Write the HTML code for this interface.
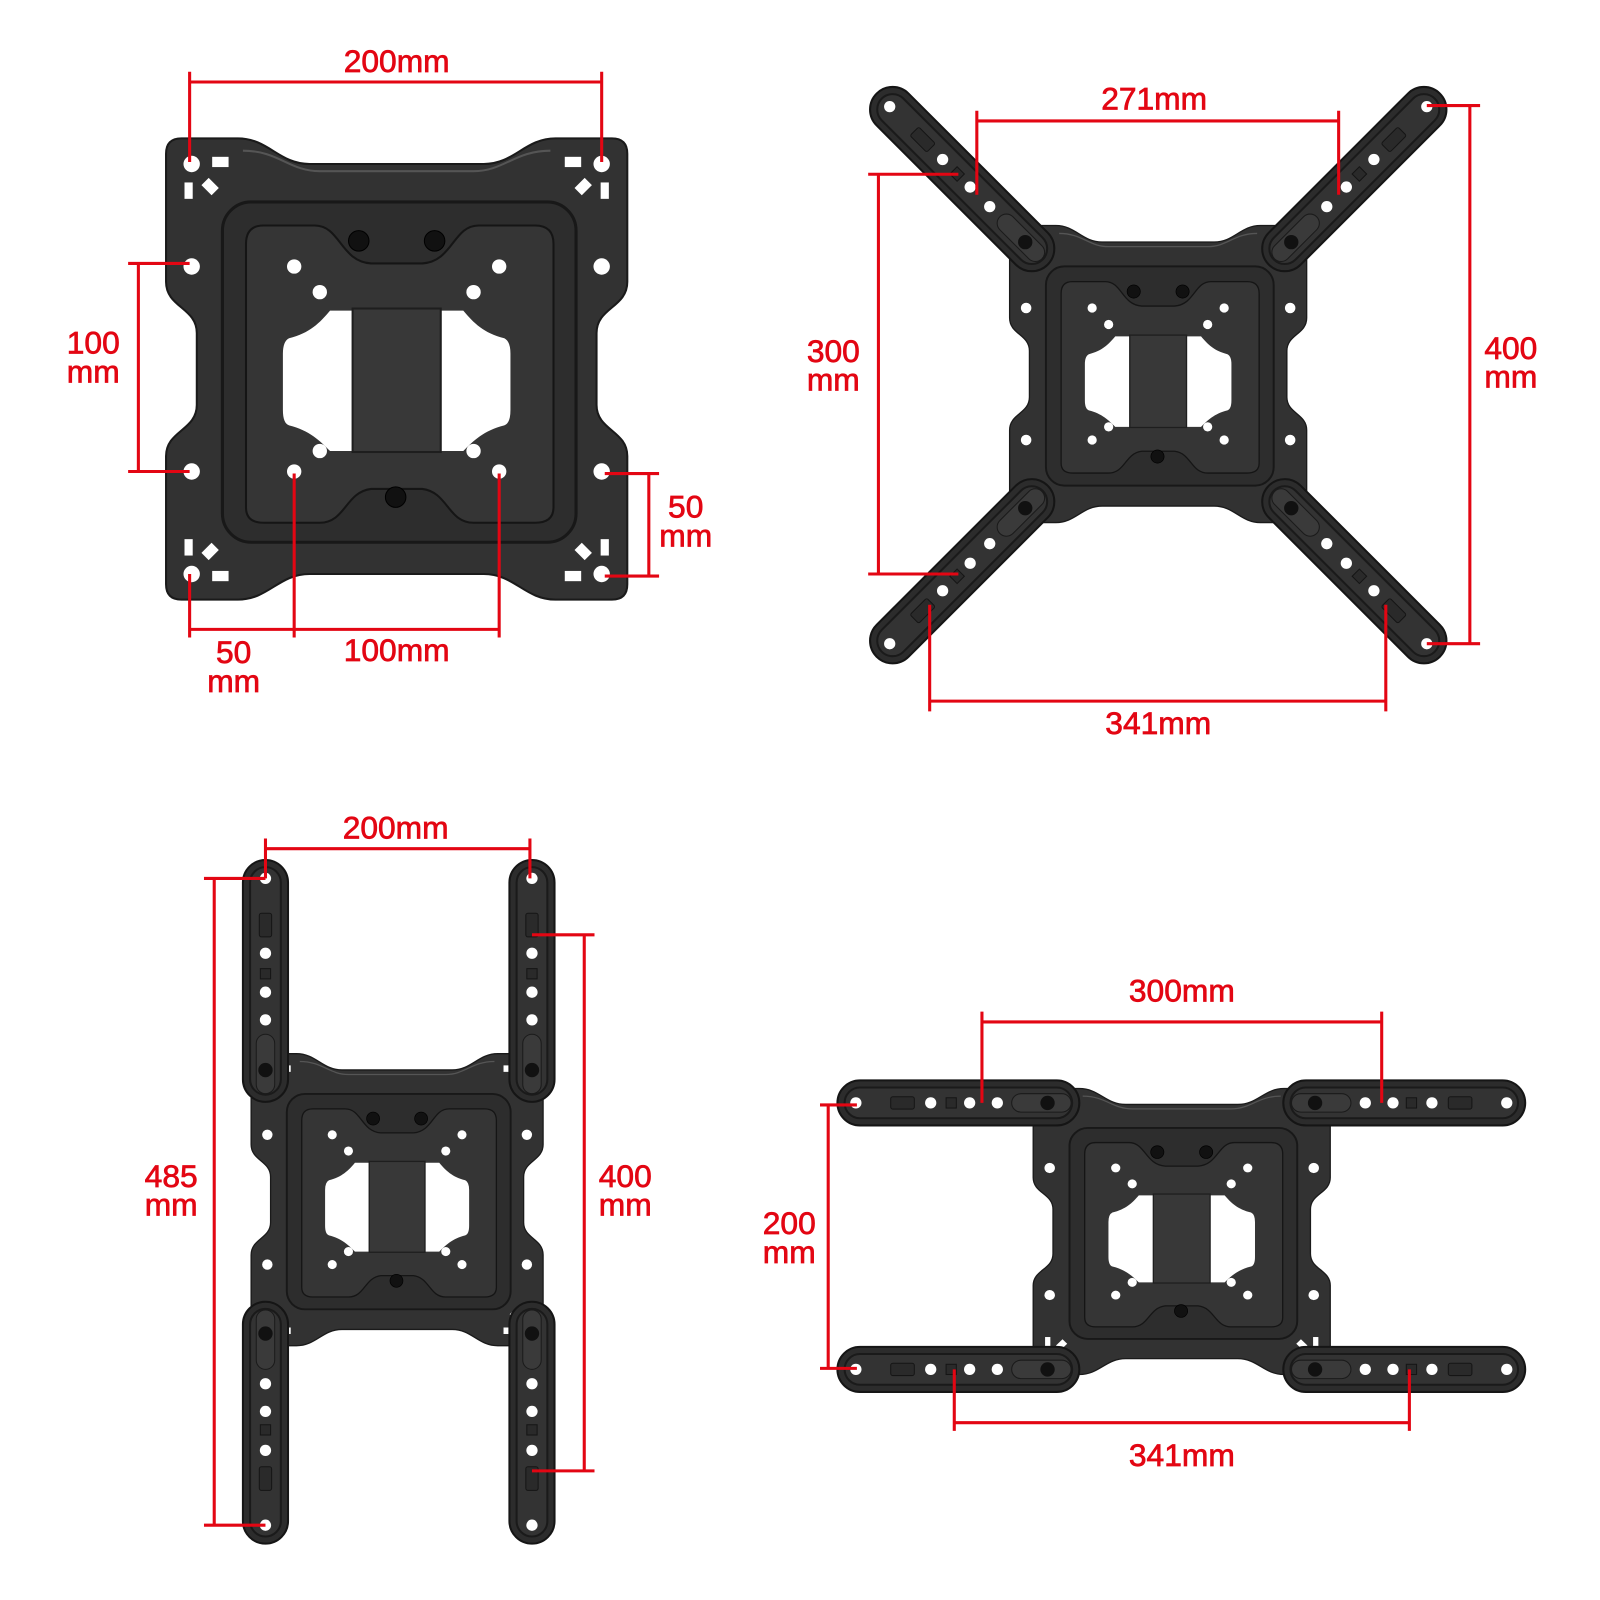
<!DOCTYPE html>
<html><head><meta charset="utf-8"><style>
html,body{margin:0;padding:0;background:#fff;}
svg{display:block;}
text{font-family:"Liberation Sans",sans-serif;fill:#e30613;font-size:31px;text-anchor:middle;stroke:#e30613;stroke-width:0.7;}
</style></head><body>
<svg width="1600" height="1600" viewBox="0 0 1600 1600" xmlns="http://www.w3.org/2000/svg">
<defs>
<g id="plate">
  <path d="M15,0 H70 C100,0 110,25 140,25 H310 C340,25 350,0 380,0 H435 Q450,0 450,15 V140 C450,165 420,165 420,190 V260 C420,285 450,285 450,310 V435 Q450,450 435,450 H380 C350,450 340,425 310,425 H140 C110,425 100,450 70,450 H15 Q0,450 0,435 V310 C0,285 30,285 30,260 V190 C30,165 0,165 0,140 V15 Q0,0 15,0 Z" fill="#323232" stroke="#1a1a1a" stroke-width="2"/>
  <path d="M75,12 C110,12 120,32 150,32 H300 C330,32 340,12 375,12" fill="none" stroke="#555" stroke-width="2"/>
  <rect x="55" y="62" width="345" height="332" rx="28" fill="#2d2d2d" stroke="#181818" stroke-width="3"/>
  <path d="M95,85 H145 C170,85 170,120 200,122 H250 C280,120 280,85 305,85 H360 Q378,85 378,103 V360 Q378,375 360,375 H300 C275,375 275,345 250,342 H200 C175,345 175,375 150,375 H95 Q78,375 78,360 V103 Q78,85 95,85 Z" fill="#353535" stroke="#151515" stroke-width="2"/>
  <path d="M160,168 H290 C300,180 310,190 330,195 Q336,198 336,210 V265 Q336,278 330,280 C310,285 300,295 290,305 H160 C150,295 140,285 120,280 Q114,278 114,265 V210 Q114,198 120,195 C140,190 150,180 160,168 Z" fill="#fff"/>
  <rect x="182" y="166" width="86" height="140" fill="#383838" stroke="#1e1e1e" stroke-width="2"/>
  <g fill="#fff">
    <circle cx="25" cy="25" r="8"/><circle cx="425" cy="25" r="8"/><circle cx="25" cy="425" r="8"/><circle cx="425" cy="425" r="8"/>
    <circle cx="25" cy="125" r="8"/><circle cx="425" cy="125" r="8"/><circle cx="25" cy="325" r="8"/><circle cx="425" cy="325" r="8"/>
    <circle cx="125" cy="125" r="7"/><circle cx="325" cy="125" r="7"/><circle cx="150" cy="150" r="7"/><circle cx="300" cy="150" r="7"/>
    <circle cx="125" cy="325" r="7"/><circle cx="325" cy="325" r="7"/><circle cx="150" cy="305" r="7"/><circle cx="300" cy="305" r="7"/>
    <rect x="45" y="18" width="16" height="10"/><rect x="18" y="43" width="8" height="16"/><rect x="38" y="40" width="10" height="14" transform="rotate(-45 43 47)"/>
    <rect x="389" y="18" width="16" height="10"/><rect x="424" y="43" width="8" height="16"/><rect x="402" y="40" width="10" height="14" transform="rotate(45 407 47)"/>
    <rect x="45" y="422" width="16" height="10"/><rect x="18" y="391" width="8" height="16"/><rect x="38" y="396" width="10" height="14" transform="rotate(45 43 403)"/>
    <rect x="389" y="422" width="16" height="10"/><rect x="424" y="391" width="8" height="16"/><rect x="402" y="396" width="10" height="14" transform="rotate(-45 407 403)"/>
  </g>
  <g fill="#111" stroke="#000"><circle cx="188" cy="100" r="10"/><circle cx="262" cy="100" r="10"/><circle cx="224" cy="350" r="10"/></g>
</g>
<g id="arm">
  <rect x="-18" y="-22" width="236" height="44" rx="22" fill="#2c2c2c" stroke="#151515" stroke-width="2"/>
  <rect x="-11" y="-15" width="222" height="30" rx="15" fill="#333" stroke="#1a1a1a" stroke-width="2"/>
  <g fill="#fff"><circle cx="0" cy="0" r="5.5"/><circle cx="73" cy="0" r="5.5"/><circle cx="111" cy="0" r="5.5"/><circle cx="138" cy="0" r="5.5"/></g>
  <rect x="34" y="-6" width="23" height="12" rx="2" fill="#2a2a2a" stroke="#151515"/>
  <rect x="88" y="-5" width="10" height="10" fill="#2a2a2a" stroke="#151515"/>
  <rect x="152" y="-9" width="58" height="18" rx="9" fill="#3a3a3a" stroke="#1a1a1a"/>
  <circle cx="187" cy="0" r="7" fill="#111"/>
</g>
</defs>
<g transform="scale(1.025)">
  <use href="#plate" transform="translate(162,135)"/>
  <use href="#plate" transform="translate(985,220) scale(0.644)"/>
  <use href="#arm" transform="translate(868,104) rotate(45)"/>
  <use href="#arm" transform="translate(1392,104) rotate(135)"/>
  <use href="#arm" transform="translate(868,628) rotate(-45)"/>
  <use href="#arm" transform="translate(1392,628) rotate(-135)"/>
  <use href="#plate" transform="translate(245,1028) scale(0.633)"/>
  <use href="#arm" transform="translate(259,857) rotate(90)"/>
  <use href="#arm" transform="translate(519,857) rotate(90)"/>
  <use href="#arm" transform="translate(259,1488) rotate(-90)"/>
  <use href="#arm" transform="translate(519,1488) rotate(-90)"/>
  <use href="#plate" transform="translate(1008,1062) scale(0.644,0.62)"/>
  <use href="#arm" transform="translate(835,1076)"/>
  <use href="#arm" transform="translate(1470,1076) rotate(180)"/>
  <use href="#arm" transform="translate(835,1336)"/>
  <use href="#arm" transform="translate(1470,1336) rotate(180)"/>

  <g stroke="#e30613" stroke-width="3" fill="none">
    <path d="M185,80 H587 M185,70 V158 M587,70 V158"/>
    <path d="M135,257 V460 M125,257 H185 M125,460 H185"/>
    <path d="M633,462 V562 M590,462 H643 M590,562 H643"/>
    <path d="M185,614 H487 M185,560 V622 M287,462 V622 M487,462 V622"/>
    <path d="M953,118 H1306 M953,108 V190 M1306,108 V190"/>
    <path d="M857,170 V560 M847,170 H935 M847,560 H935"/>
    <path d="M1434,103 V628 M1392,103 H1444 M1392,628 H1444"/>
    <path d="M907,684 H1352 M907,590 V694 M1352,590 V694"/>
    <path d="M259,828 H517 M259,818 V857 M517,818 V857"/>
    <path d="M209,857 V1488 M199,857 H259 M199,1488 H259"/>
    <path d="M570,912 V1435 M519,912 H580 M519,1435 H580"/>
    <path d="M958,997 H1348 M958,987 V1076 M1348,987 V1076"/>
    <path d="M808,1078 V1335 M800,1078 H836 M800,1335 H836"/>
    <path d="M931,1388 H1375 M931,1336 V1396 M1375,1336 V1396"/>
  </g>
  <text x="387" y="70">200mm</text>
  <text x="91" y="345">100</text><text x="91" y="373">mm</text>
  <text x="669" y="505">50</text><text x="669" y="533">mm</text>
  <text x="228" y="647">50</text><text x="228" y="675">mm</text>
  <text x="387" y="645">100mm</text>
  <text x="1126" y="107">271mm</text>
  <text x="813" y="353">300</text><text x="813" y="381">mm</text>
  <text x="1474" y="350">400</text><text x="1474" y="378">mm</text>
  <text x="1130" y="716">341mm</text>
  <text x="386" y="818">200mm</text>
  <text x="167" y="1158">485</text><text x="167" y="1186">mm</text>
  <text x="610" y="1158">400</text><text x="610" y="1186">mm</text>
  <text x="1153" y="977">300mm</text>
  <text x="770" y="1204">200</text><text x="770" y="1232">mm</text>
  <text x="1153" y="1430">341mm</text>
</g>
</svg>
</body></html>
